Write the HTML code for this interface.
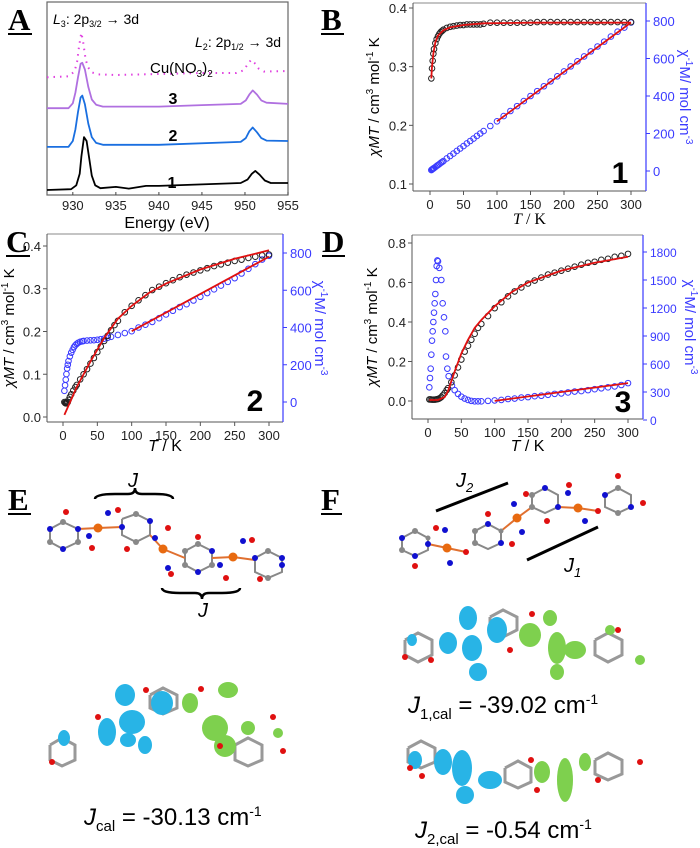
<!DOCTYPE html>
<html><head><meta charset="utf-8">
<style>
body{margin:0;background:#fff;}
#root{position:relative;width:700px;height:848px;overflow:hidden;font-family:"Liberation Sans",sans-serif;}
svg{position:absolute;left:0;top:0;}
</style></head>
<body>
<div id="root">
<svg id="fig" width="700" height="848" viewBox="0 0 700 848">
 <g font-family="Liberation Serif,serif" font-weight="bold" font-size="31" fill="#000">
  <text x="8" y="30">A</text>
  <line x1="8" y1="34" x2="32" y2="34" stroke="#000" stroke-width="2"/>
  <text x="321" y="30">B</text>
  <line x1="321" y1="34" x2="344" y2="34" stroke="#000" stroke-width="2"/>
  <text x="6" y="252">C</text>
  <line x1="6" y1="256" x2="30" y2="256" stroke="#000" stroke-width="2"/>
  <text x="322" y="252">D</text>
  <line x1="322" y1="256" x2="345" y2="256" stroke="#000" stroke-width="2"/>
  <text x="8" y="510">E</text>
  <line x1="8" y1="514" x2="31" y2="514" stroke="#000" stroke-width="2"/>
  <text x="321" y="510">F</text>
  <line x1="321" y1="514" x2="342" y2="514" stroke="#000" stroke-width="2"/>
 </g>
 <!-- Panel E -->
 <g>
  <path d="M95 499 Q95 494 115 494 L128 494 Q135 494 135 488 Q135 494 142 494 L155 494 Q173 494 173 499" fill="none" stroke="#000" stroke-width="2.5"/>
  <text x="128" y="487" font-size="20" font-style="italic">J</text>
  <path d="M162 588 Q162 593 180 593 L195 593 Q202 593 202 599 Q202 593 209 593 L222 593 Q240 593 240 588" fill="none" stroke="#000" stroke-width="2.5"/>
  <text x="198" y="617" font-size="20" font-style="italic">J</text>
  <g stroke="#888" stroke-width="2">
   <polyline points="50,529 63,522 78,529 78,542 63,549 50,542 50,529" fill="none"/>
   <polyline points="122,519 136,514 150,521 150,535 136,542 122,535 122,519" fill="none"/>
   <polyline points="185,551 198,544 212,551 212,565 198,572 185,565 185,551" fill="none"/>
   <polyline points="255,558 268,551 282,558 282,572 268,578 255,572 255,558" fill="none"/>
   <line x1="78" y1="529" x2="98" y2="528" stroke="#e07030"/><line x1="98" y1="528" x2="122" y2="527" stroke="#e07030"/>
   <line x1="150" y1="535" x2="163" y2="549" stroke="#e07030"/><line x1="163" y1="549" x2="185" y2="558" stroke="#e07030"/>
   <line x1="212" y1="558" x2="233" y2="557" stroke="#e07030"/><line x1="233" y1="557" x2="255" y2="560" stroke="#e07030"/>
  </g>
  <g fill="#1010d0"><circle cx="50" cy="529" r="3"/><circle cx="63" cy="549" r="3"/><circle cx="78" cy="529" r="3"/><circle cx="108" cy="513" r="3"/><circle cx="89" cy="536" r="3"/><circle cx="122" cy="527" r="3"/><circle cx="150" cy="521" r="3"/><circle cx="155" cy="538" r="3"/><circle cx="168" cy="568" r="3"/><circle cx="198" cy="572" r="3"/><circle cx="212" cy="551" r="3"/><circle cx="220" cy="565" r="3"/><circle cx="243" cy="541" r="3"/><circle cx="255" cy="558" r="3"/><circle cx="282" cy="558" r="3"/><circle cx="282" cy="565" r="3"/><circle cx="268" cy="551" r="2.5"/></g>
  <g fill="#e01010"><circle cx="66" cy="512" r="3"/><circle cx="92" cy="548" r="3"/><circle cx="118" cy="510" r="3"/><circle cx="168" cy="528" r="3"/><circle cx="127" cy="549" r="3"/><circle cx="171" cy="574" r="3"/><circle cx="198" cy="537" r="3"/><circle cx="226" cy="578" r="3"/><circle cx="252" cy="540" r="3"/><circle cx="260" cy="579" r="3"/></g>
  <g fill="#888"><circle cx="63" cy="522" r="3"/><circle cx="50" cy="542" r="3"/><circle cx="78" cy="542" r="3"/><circle cx="136" cy="514" r="3"/><circle cx="136" cy="542" r="3"/><circle cx="185" cy="551" r="3"/><circle cx="185" cy="565" r="3"/><circle cx="198" cy="544" r="3"/><circle cx="212" cy="565" r="3"/><circle cx="268" cy="578" r="3"/><circle cx="268" cy="551" r="3"/></g>
  <g fill="#e86a10"><circle cx="98" cy="528" r="4.5"/><circle cx="163" cy="549" r="4.5"/><circle cx="233" cy="557" r="4.5"/></g>
 </g>
 <g>
  <g stroke="#999" stroke-width="3" fill="none">
   <polyline points="50,745 62,738 75,745 75,760 62,766 50,760 50,745"/>
   <polyline points="150,695 163,688 177,695 177,708 163,714 150,708 150,695"/>
   <polyline points="235,745 248,738 262,745 262,760 248,766 235,760 235,745"/>
  </g>
  <g fill="#28b4e6"><ellipse cx="64" cy="738" rx="6" ry="8"/><ellipse cx="107" cy="732" rx="9" ry="14"/><ellipse cx="125" cy="695" rx="10" ry="11"/><ellipse cx="132" cy="722" rx="13" ry="12"/><ellipse cx="162" cy="703" rx="11" ry="12"/><ellipse cx="145" cy="745" rx="7" ry="9"/><ellipse cx="128" cy="740" rx="8" ry="7"/></g>
  <g fill="#7ed04e"><ellipse cx="190" cy="703" rx="8" ry="10"/><ellipse cx="228" cy="690" rx="10" ry="8"/><ellipse cx="215" cy="728" rx="13" ry="13"/><ellipse cx="225" cy="746" rx="11" ry="11"/><ellipse cx="248" cy="728" rx="7" ry="7"/><ellipse cx="278" cy="733" rx="5" ry="5"/></g>
  <g fill="#e01010"><circle cx="52" cy="762" r="3"/><circle cx="98" cy="717" r="3"/><circle cx="146" cy="690" r="3"/><circle cx="201" cy="689" r="3"/><circle cx="273" cy="717" r="3"/><circle cx="283" cy="751" r="3"/><circle cx="220" cy="746" r="3"/></g>
  <text x="84" y="825" font-size="24"><tspan font-style="italic">J</tspan><tspan font-size="15" dy="6">cal</tspan><tspan dy="-6"> = -30.13 cm</tspan><tspan font-size="14" dy="-9">-1</tspan></text>
 </g>
 <!-- Panel F -->
 <g>
  <line x1="436" y1="511" x2="508" y2="483" stroke="#000" stroke-width="3"/>
  <text x="456" y="487" font-size="20" font-style="italic">J<tspan font-size="13" dy="5">2</tspan></text>
  <line x1="527" y1="560" x2="598" y2="527" stroke="#000" stroke-width="3"/>
  <text x="564" y="572" font-size="20" font-style="italic">J<tspan font-size="13" dy="5">1</tspan></text>
  <g stroke="#888" stroke-width="2" fill="none">
   <polyline points="402,538 415,531 428,538 428,550 415,556 402,550 402,538"/>
   <polyline points="475,531 488,524 501,531 501,543 488,549 475,543 475,531"/>
   <polyline points="532,495 545,488 558,495 558,507 545,513 532,507 532,495"/>
   <polyline points="605,495 618,488 631,495 631,507 618,513 605,507 605,495"/>
   <line x1="428" y1="544" x2="447" y2="548" stroke="#e07030"/><line x1="447" y1="548" x2="466" y2="552" stroke="#e07030"/>
   <line x1="501" y1="531" x2="517" y2="518" stroke="#e07030"/><line x1="517" y1="518" x2="532" y2="507" stroke="#e07030"/>
   <line x1="558" y1="507" x2="578" y2="508" stroke="#e07030"/><line x1="578" y1="508" x2="598" y2="511" stroke="#e07030"/>
  </g>
  <g fill="#1010d0"><circle cx="402" cy="538" r="3"/><circle cx="415" cy="556" r="3"/><circle cx="428" cy="544" r="3"/><circle cx="450" cy="563" r="3"/><circle cx="445" cy="530" r="3"/><circle cx="488" cy="524" r="3"/><circle cx="501" cy="543" r="3"/><circle cx="514" cy="504" r="3"/><circle cx="522" cy="532" r="3"/><circle cx="545" cy="488" r="3"/><circle cx="558" cy="507" r="3"/><circle cx="568" cy="493" r="3"/><circle cx="585" cy="521" r="3"/><circle cx="605" cy="495" r="3"/><circle cx="631" cy="507" r="3"/></g>
  <g fill="#e01010"><circle cx="436" cy="528" r="3"/><circle cx="415" cy="566" r="3"/><circle cx="466" cy="552" r="3"/><circle cx="488" cy="514" r="3"/><circle cx="512" cy="544" r="3"/><circle cx="526" cy="494" r="3"/><circle cx="547" cy="521" r="3"/><circle cx="569" cy="485" r="3"/><circle cx="598" cy="511" r="3"/><circle cx="618" cy="476" r="3"/><circle cx="643" cy="503" r="3"/></g>
  <g fill="#888"><circle cx="415" cy="531" r="3"/><circle cx="402" cy="550" r="3"/><circle cx="428" cy="538" r="2.5"/><circle cx="475" cy="531" r="3"/><circle cx="475" cy="543" r="3"/><circle cx="501" cy="531" r="2.5"/><circle cx="532" cy="495" r="3"/><circle cx="532" cy="507" r="3"/><circle cx="618" cy="488" r="3"/><circle cx="618" cy="513" r="3"/></g>
  <g fill="#e86a10"><circle cx="447" cy="548" r="4.5"/><circle cx="517" cy="518" r="4.5"/><circle cx="578" cy="508" r="4.5"/></g>
 </g>
 <g>
  <g stroke="#999" stroke-width="3" fill="none">
   <polyline points="405,640 418,633 432,640 432,655 418,662 405,655 405,640"/>
   <polyline points="490,617 503,610 517,617 517,630 503,637 490,630 490,617"/>
   <polyline points="595,640 608,633 622,640 622,655 608,662 595,655 595,640"/>
  </g>
  <g fill="#28b4e6"><ellipse cx="412" cy="640" rx="5" ry="6"/><ellipse cx="448" cy="643" rx="9" ry="11"/><ellipse cx="468" cy="618" rx="9" ry="12"/><ellipse cx="472" cy="648" rx="10" ry="13"/><ellipse cx="478" cy="672" rx="9" ry="9"/><ellipse cx="497" cy="630" rx="10" ry="13"/></g>
  <g fill="#7ed04e"><ellipse cx="530" cy="635" rx="11" ry="12"/><ellipse cx="550" cy="618" rx="7" ry="8"/><ellipse cx="557" cy="648" rx="9" ry="16"/><ellipse cx="557" cy="672" rx="7" ry="8"/><ellipse cx="575" cy="650" rx="11" ry="9"/><ellipse cx="610" cy="630" rx="5" ry="5"/><ellipse cx="640" cy="660" rx="5" ry="5"/></g>
  <g fill="#e01010"><circle cx="405" cy="657" r="3"/><circle cx="431" cy="660" r="3"/><circle cx="532" cy="614" r="3"/><circle cx="510" cy="650" r="3"/><circle cx="618" cy="630" r="3"/></g>
  <text x="408" y="713" font-size="24"><tspan font-style="italic">J</tspan><tspan font-size="15" dy="6">1,cal</tspan><tspan dy="-6"> = -39.02 cm</tspan><tspan font-size="14" dy="-9">-1</tspan></text>
 </g>
 <g>
  <g stroke="#999" stroke-width="3" fill="none">
   <polyline points="408,748 421,741 435,748 435,762 421,768 408,762 408,748"/>
   <polyline points="505,768 518,761 531,768 531,782 518,788 505,782 505,768"/>
   <polyline points="595,760 608,753 622,760 622,774 608,780 595,774 595,760"/>
  </g>
  <g fill="#28b4e6"><ellipse cx="415" cy="760" rx="7" ry="9"/><ellipse cx="443" cy="762" rx="9" ry="13"/><ellipse cx="462" cy="768" rx="10" ry="18"/><ellipse cx="465" cy="795" rx="9" ry="9"/><ellipse cx="490" cy="780" rx="12" ry="9"/></g>
  <g fill="#7ed04e"><ellipse cx="542" cy="772" rx="8" ry="11"/><ellipse cx="565" cy="780" rx="8" ry="22"/><ellipse cx="585" cy="762" rx="6" ry="9"/></g>
  <g fill="#e01010"><circle cx="410" cy="768" r="3"/><circle cx="422" cy="776" r="3"/><circle cx="531" cy="760" r="3"/><circle cx="537" cy="790" r="3"/><circle cx="640" cy="762" r="3"/><circle cx="598" cy="780" r="3"/></g>
  <text x="415" y="838" font-size="24"><tspan font-style="italic">J</tspan><tspan font-size="15" dy="6">2,cal</tspan><tspan dy="-6"> = -0.54 cm</tspan><tspan font-size="14" dy="-9">-1</tspan></text>
 </g>
</svg>
</div>
<script>
// ===== Panel A data (XAS spectra, arbitrary units) =====
const xasEnergyCu = [927,929.5,930.2,930.5,930.7,930.9,931.0,931.2,931.5,931.8,932.2,933,935,945,949,949.8,950.3,950.7,951.1,951.6,952.2,955];
const xasCu = [6.1,6.15,6.4,6.9,7.6,8.2,8.4,7.9,7.0,6.6,6.35,6.25,6.22,6.32,6.32,6.45,6.75,7.0,6.85,6.55,6.4,6.42];
const xasEnergy3 = [927,929.5,930.0,930.3,930.6,930.9,931.1,931.4,931.8,932.2,932.7,933.5,940,945,949.5,950.1,950.5,950.9,951.4,951.9,952.5,955];
const xas3 = [4.5,4.5,4.75,5.3,6.1,6.8,6.85,6.5,5.6,4.95,4.68,4.58,4.58,4.66,4.72,4.9,5.2,5.42,5.2,4.9,4.78,4.72];
const xasEnergy2 = [927,929.5,930.0,930.3,930.6,930.9,931.1,931.4,931.8,932.2,932.7,933.5,940,949.5,950.1,950.5,950.9,951.4,951.9,952.5,955];
const xas2 = [2.49,2.5,2.8,3.4,4.3,5.05,5.15,4.7,3.7,3.0,2.7,2.6,2.6,2.75,2.95,3.3,3.5,3.25,2.95,2.82,2.8];
const xasEnergy1 = [927,929.8,930.4,930.8,931.0,931.3,931.6,931.9,932.2,932.6,933.2,935,936.5,938.5,940,945,949.5,950.3,950.8,951.2,951.7,952.3,953,955];
const xas1 = [0.26,0.3,0.5,1.1,2.0,3.0,2.8,1.9,1.0,0.5,0.35,0.42,0.33,0.47,0.47,0.55,0.62,0.8,1.1,1.25,1.05,0.75,0.62,0.62];
const xasTicks = [930,935,940,945,950,955];

// ===== Panel B (compound 1) =====
const tB = [2,3,4,5,6,8,10,12,14,16,18,20,25,30,35,40,45,50,55,60,65,70,75,80,90,100,110,120,130,140,150,160,170,180,190,200,210,220,230,240,250,260,270,280,290,300];
const chiTB = [0.28,0.297,0.31,0.322,0.33,0.34,0.347,0.352,0.356,0.359,0.361,0.363,0.366,0.368,0.369,0.37,0.371,0.371,0.372,0.372,0.372,0.372,0.372,0.373,0.375,0.375,0.375,0.375,0.375,0.375,0.375,0.376,0.376,0.376,0.376,0.376,0.376,0.376,0.376,0.376,0.376,0.376,0.376,0.376,0.376,0.376];
const invB = [5,8,11,13,16,21,27,32,37,43,48,53,67,80,93,107,120,133,147,160,173,187,200,213,240,265,293,320,346,373,400,426,452,478,505,531,558,585,611,638,664,690,717,743,765,792];
const fitTB = [2,3,5,8,12,20,30,50,80,150,300];
const fitChiB = [0.28,0.3,0.323,0.342,0.353,0.362,0.367,0.371,0.374,0.375,0.375];
const fitInvTB = [100,300];
const fitInvB = [265,792];

// ===== Panel C (compound 2) =====
const tC = [2,3,4,5,6,7,8,10,12,15,18,20,25,30,35,40,45,50,55,60,65,70,75,80,90,100,110,120,130,140,150,160,170,180,190,200,210,220,230,240,250,260,270,280,290,300];
const chiTC = [0.035,0.033,0.032,0.032,0.033,0.035,0.04,0.047,0.053,0.062,0.07,0.075,0.088,0.1,0.112,0.125,0.138,0.152,0.165,0.178,0.19,0.203,0.215,0.225,0.245,0.26,0.273,0.285,0.297,0.305,0.313,0.32,0.327,0.333,0.338,0.343,0.348,0.353,0.357,0.361,0.365,0.368,0.372,0.375,0.378,0.38];
const tCinv = [2,3,4,5,6,7,8,10,12,14,16,18,20,22,25,28,30,35,40,45,50,55,60,65,70,80,90,100,110,120,130,140,150,160,170,180,190,200,210,220,230,240,250,260,270,280,290,300];
const invC = [60,90,120,150,180,200,220,245,265,280,295,305,312,318,323,326,328,330,331,332,334,337,340,345,350,360,370,380,400,415,430,450,470,490,510,525,545,565,585,605,625,645,665,690,715,740,765,785];
const fitTC = [2,20,40,60,80,100,125,150,200,250,300];
const fitChiC = [0.005,0.07,0.13,0.185,0.23,0.26,0.29,0.312,0.345,0.37,0.39];
const fitInvTC = [100,300];
const fitInvC = [380,780];

// ===== Panel D (compound 3) =====
const tD = [2,4,6,8,10,12,14,16,18,20,22,25,28,30,35,40,45,50,55,60,65,70,75,80,90,100,110,120,130,140,150,160,170,180,190,200,210,220,230,240,250,260,270,280,290,300];
const chiTD = [0.008,0.008,0.007,0.007,0.007,0.008,0.009,0.011,0.015,0.02,0.028,0.04,0.055,0.065,0.095,0.13,0.17,0.21,0.25,0.28,0.31,0.34,0.37,0.39,0.43,0.47,0.5,0.53,0.555,0.575,0.595,0.61,0.625,0.64,0.65,0.66,0.67,0.68,0.69,0.7,0.705,0.715,0.72,0.73,0.735,0.745];
const tDinv = [2,3,4,5,6,7,8,9,10,11,12,13,14,15,17,20,22,24,26,27,29,31,36,40,45,50,55,60,65,70,75,80,90,100,110,120,130,140,150,160,170,180,190,200,210,220,230,240,250,260,270,280,290,300];
const invD = [350,450,550,700,850,950,1050,1150,1250,1350,1500,1650,1710,1700,1630,1500,1250,1100,950,680,550,470,370,320,280,250,230,215,205,200,200,200,205,210,215,225,230,240,245,255,260,270,280,285,295,305,310,320,330,340,350,360,375,395];
const fitTD = [2,15,25,30,35,40,50,60,70,80,100,125,150,200,250,300];
const fitChiD = [0.005,0.005,0.02,0.05,0.1,0.15,0.24,0.31,0.37,0.41,0.48,0.55,0.6,0.66,0.7,0.73];
const fitInvTD = [100,300];
const fitInvD = [205,395];

const tTicks = [0,50,100,150,200,250,300];

const NS = 'http://www.w3.org/2000/svg';
const fig = document.getElementById('fig');
function mk(tag, attrs, parent){ const e=document.createElementNS(NS,tag); for(const k in attrs) e.setAttribute(k,attrs[k]); (parent||fig).appendChild(e); return e; }
function lin(d0,d1,r0,r1){ return v => r0 + (v-d0)*(r1-r0)/(d1-d0); }

// ---------- Panel A ----------
(function(){
  const g = mk('g',{});
  
  
  const L=47,R=288,T=2,B=195;
  const x = lin(927,955,L,R), y = lin(0,10,B,T);
  const box = mk('rect',{x:L,y:T,width:R-L,height:B-T,fill:'none',stroke:'#666','stroke-width':1.2},g);
  
  
  xasTicks.forEach(v=>{
    mk('line',{x1:x(v),y1:B,x2:x(v),y2:B-3,stroke:'#444'},g);
    const t = mk('text',{x:x(v),y:B+15,'font-size':13,'text-anchor':'middle',fill:'#222'},g);
    t.textContent=v;
    
    
  });
  const xl = mk('text',{x:167,y:228,'font-size':16,'text-anchor':'middle'},g);
  xl.textContent='Energy (eV)';
  
  
  function path(xs,ys){ return xs.map((v,i)=>(i?'L':'M')+x(v).toFixed(1)+' '+y(ys[i]).toFixed(1)).join(' '); }
  const series=[[xasEnergyCu,xasCu,'#e040e0','spectrum-cu-nitrate',true],[xasEnergy3,xas3,'#b070e0','spectrum-3'],[xasEnergy2,xas2,'#1a6fe0','spectrum-2'],[xasEnergy1,xas1,'#000','spectrum-1']];
  series.forEach(s=>{
    const p = mk('path',{d:path(s[0],s[1]),fill:'none',stroke:s[2],'stroke-width':s[4]?2:1.8,'stroke-dasharray':s[4]?'1.5 5':'none','stroke-linejoin':'round'},g);
    
    
  });
  const labs=[[173,104,'3'],[173,141,'2'],[172,188,'1']];
  labs.forEach(l=>{ const t=mk('text',{x:l[0],y:l[1],'font-size':16,'font-weight':'bold','text-anchor':'middle'},g); t.textContent=l[2];
    
     });
  const cu = mk('text',{x:150,y:73,'font-size':15},g);
  cu.innerHTML='Cu(NO<tspan font-size="10" dy="4">3</tspan><tspan dy="-4">)</tspan><tspan font-size="10" dy="4">2</tspan>';
  
  
  const l3 = mk('text',{x:53,y:24,'font-size':14},g);
  l3.innerHTML='<tspan font-style="italic">L</tspan><tspan font-size="9" dy="3">3</tspan><tspan dy="-3">: 2p</tspan><tspan font-size="9" dy="3">3/2</tspan><tspan dy="-3"> → 3d</tspan>';
  
  
  const l2 = mk('text',{x:195,y:47,'font-size':14},g);
  l2.innerHTML='<tspan font-style="italic">L</tspan><tspan font-size="9" dy="3">2</tspan><tspan dy="-3">: 2p</tspan><tspan font-size="9" dy="3">1/2</tspan><tspan dy="-3"> → 3d</tspan>';
  
  
})();

// ---------- magnetic panels ----------
function magPanel(c){
  const g = mk('g',{});
  
  
  const x = lin(0,300,c.x0,c.x300);
  const yl = lin(c.lv0,c.lv1,c.ly0,c.ly1);
  const yr = lin(c.rv0,c.rv1,c.ry0,c.ry1);
  const blue='#3a3aff';
  mk('line',{x1:c.L,y1:c.T,x2:c.R,y2:c.T,stroke:'#888'},g);
  mk('line',{x1:c.L,y1:c.B,x2:c.R,y2:c.B,stroke:'#555'},g);
  mk('line',{x1:c.L,y1:c.T,x2:c.L,y2:c.B,stroke:'#555'},g);
  mk('line',{x1:c.R,y1:c.T,x2:c.R,y2:c.B,stroke:blue,'stroke-width':1.2},g);
  tTicks.forEach(v=>{
    mk('line',{x1:x(v),y1:c.B,x2:x(v),y2:c.B+4,stroke:'#555'},g);
    const t=mk('text',{x:x(v),y:c.B+18,'font-size':13,'text-anchor':'middle',fill:'#222'},g); t.textContent=v;
    
    
  });
  c.lTicks.forEach(v=>{
    mk('line',{x1:c.L-4,y1:yl(v),x2:c.L,y2:yl(v),stroke:'#555'},g);
    const t=mk('text',{x:c.L-6,y:yl(v)+5,'font-size':13,'text-anchor':'end',fill:'#222'},g); t.textContent=v.toFixed(1);
    
    
  });
  c.rTicks.forEach(v=>{
    mk('line',{x1:c.R,y1:yr(v),x2:c.R+4,y2:yr(v),stroke:blue},g);
    const t=mk('text',{x:c.R+7,y:yr(v)+5,'font-size':c.rFs||13,fill:blue},g); t.textContent=v;
    
    
  });
  c.inT.forEach((t,i)=>{ const e=mk('circle',{cx:x(t),cy:yr(c.inv[i]),r:2.8,fill:'none',stroke:blue,'stroke-width':1},g);
    
     });
  c.chiT.forEach((t,i)=>{ const e=mk('circle',{cx:x(t),cy:yl(c.chi[i]),r:2.8,fill:'none',stroke:'#222','stroke-width':1},g);
    
     });
  const fp = mk('path',{d:c.fitT.map((t,i)=>(i?'L':'M')+x(t).toFixed(1)+' '+yl(c.fit[i]).toFixed(1)).join(' '),fill:'none',stroke:'#e01010','stroke-width':1.8},g);
  
  
  const fi = mk('path',{d:c.fitIT.map((t,i)=>(i?'L':'M')+x(t).toFixed(1)+' '+yr(c.fitI[i]).toFixed(1)).join(' '),fill:'none',stroke:'#e01010','stroke-width':1.8},g);
  
  
  const num=mk('text',{x:c.numX,y:c.numY,'font-size':30,'font-weight':'bold','text-anchor':'middle'},g); num.textContent=c.num;
  
  
  const xt=mk('text',{x:(c.L+c.R)/2,y:c.xlY,'font-size':16,'text-anchor':'middle','font-family':c.serif?'Liberation Serif,serif':'Liberation Sans,sans-serif'},g);
  xt.innerHTML='<tspan font-style="italic">T</tspan> / K';
  
  
  const cy=(c.T+c.B)/2;
  const lt=mk('text',{x:0,y:0,'font-size':15,'text-anchor':'middle',transform:`translate(${c.lLabX},${cy}) rotate(-90)`},g);
  lt.innerHTML='<tspan font-style="italic">χM</tspan><tspan font-style="italic">T</tspan> / cm<tspan font-size="10" dy="-6">3</tspan><tspan dy="6"> mol</tspan><tspan font-size="10" dy="-6">-1</tspan><tspan dy="6"> K</tspan>';
  
  
  const rt=mk('text',{x:0,y:0,'font-size':15,'text-anchor':'middle',fill:blue,transform:`translate(${c.rLabX},${cy}) rotate(90)`},g);
  rt.innerHTML='χ<tspan font-size="10" dy="-6">-1</tspan><tspan dy="6">M/ mol cm</tspan><tspan font-size="10" dy="-6">-3</tspan>';
  
  
}
magPanel({name:'panel-b-chart',L:413,R:646,T:3,B:191,x0:430,x300:631,lv0:0.1,lv1:0.4,ly0:184,ly1:8,rv0:0,rv1:800,ry0:171,ry1:21,
  lTicks:[0.1,0.2,0.3,0.4],rTicks:[0,200,400,600,800],chiT:tB,chi:chiTB,inT:tB,inv:invB,fitT:fitTB,fit:fitChiB,fitIT:fitInvTB,fitI:fitInvB,
  num:'1',numX:620,numY:183,xlY:224,serif:true,lLabX:379,rLabX:680});
magPanel({name:'panel-c-chart',L:47,R:283,T:234,B:422,x0:63,x300:269,lv0:0,lv1:0.4,ly0:417,ly1:246,rv0:0,rv1:800,ry0:402,ry1:253,
  lTicks:[0,0.1,0.2,0.3,0.4],rTicks:[0,200,400,600,800],chiT:tC,chi:chiTC,inT:tCinv,inv:invC,fitT:fitTC,fit:fitChiC,fitIT:fitInvTC,fitI:fitInvC,
  num:'2',numX:255,numY:411,xlY:451,lLabX:14,rLabX:315});
magPanel({name:'panel-d-chart',L:412,R:643,T:235,B:419,x0:428,x300:628,lv0:0,lv1:0.8,ly0:401,ly1:243,rv0:0,rv1:1800,ry0:420,ry1:252,
  lTicks:[0,0.2,0.4,0.6,0.8],rTicks:[0,300,600,900,1200,1500,1800],rFs:12,chiT:tD,chi:chiTD,inT:tDinv,inv:invD,fitT:fitTD,fit:fitChiD,fitIT:fitInvTD,fitI:fitInvD,
  num:'3',numX:623,numY:412,xlY:451,lLabX:377,rLabX:685});
</script>
</body></html>
